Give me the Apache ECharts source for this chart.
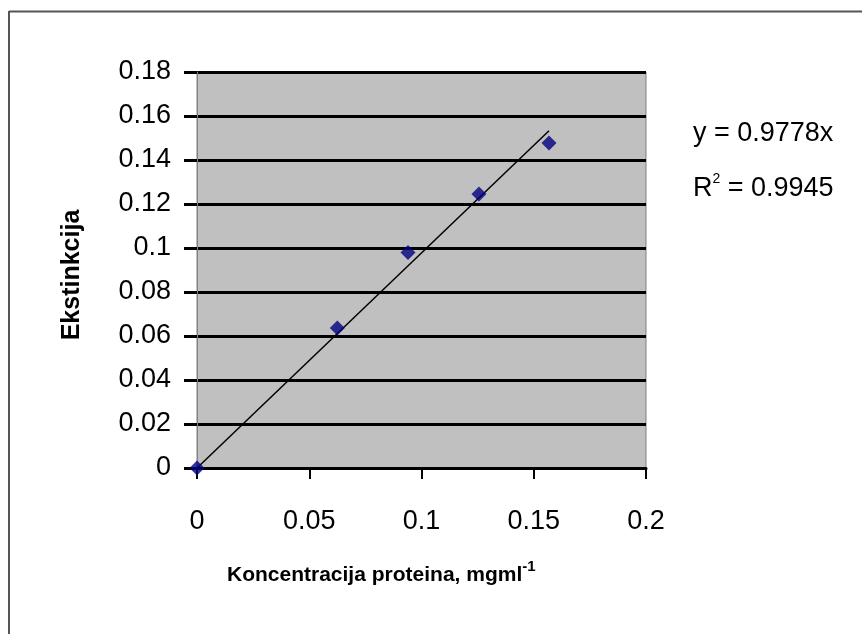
<!DOCTYPE html>
<html>
<head>
<meta charset="utf-8">
<script src="https://cdn.jsdelivr.net/npm/echarts@6/dist/echarts.min.js"></script>
<style>
html,body{margin:0;padding:0;background:#fff;}
#chart{width:862px;height:634px;}
</style>
</head>
<body>
<div id="chart"></div>
<script>
// Data
var concentration = [0, 0.0625, 0.094, 0.1256, 0.1568];
var extinction = [0, 0.0636, 0.098, 0.1245, 0.1477];
var trendX = [0, 0.1568];
var trendY = [0, 0.1533];
var xTicks = [0, 0.05, 0.1, 0.15, 0.2];
var yTicks = [0, 0.02, 0.04, 0.06, 0.08, 0.1, 0.12, 0.14, 0.16, 0.18];
var equationText = 'y = 0.9778x';
var r2Value = '0.9945';
var xTitle = 'Koncentracija proteina, mgml';
var xTitleSup = '-1';
var yTitle = 'Ekstinkcija';

var points = concentration.map(function (x, i) { return [x, extinction[i]]; });
var trend = trendX.map(function (x, i) { return [x, trendY[i]]; });

var chart = echarts.init(document.getElementById('chart'));
var FF = 'Liberation Sans, Arial, sans-serif';
var tickFont = {fontFamily: FF, fontSize: 27, color: '#000'};

chart.setOption({
  animation: false,
  backgroundColor: '#fff',
  grid: {left: 197, top: 72, right: 216, bottom: 166, containLabel: false,
         show: true, backgroundColor: '#c0c0c0', borderColor: '#808080', borderWidth: 1},
  xAxis: {
    type: 'value', min: xTicks[0], max: xTicks[xTicks.length - 1], interval: 0.05,
    axisLine: {show: true, onZero: false, lineStyle: {color: '#000', width: 3}},
    axisTick: {show: true, length: 11, lineStyle: {color: '#000', width: 2}},
    axisLabel: Object.assign({margin: 40, formatter: function (v) { return String(+v.toFixed(2)); }}, tickFont),
    splitLine: {show: false}
  },
  yAxis: {
    type: 'value', min: yTicks[0], max: yTicks[yTicks.length - 1], interval: 0.02,
    axisLine: {show: true, onZero: false, lineStyle: {color: '#808080', width: 1}},
    axisTick: {show: true, length: 13, lineStyle: {color: '#000', width: 3}},
    axisLabel: Object.assign({margin: 26, formatter: function (v) { return String(+v.toFixed(2)); }}, tickFont),
    splitLine: {show: true, lineStyle: {color: '#000', width: 3}}
  },
  series: [
    {
      type: 'line', data: trend, symbol: 'none', silent: true,
      lineStyle: {color: '#000', width: 1.5}, z: 3
    },
    {
      type: 'scatter', data: points, symbol: 'diamond', symbolSize: 15, clip: false,
      itemStyle: {color: '#000080'}, z: 4
    }
  ],
  graphic: [
    {type: 'line', shape: {x1: 9, y1: 11.5, x2: 862, y2: 11.5}, style: {stroke: '#555', lineWidth: 2}},
    {type: 'line', shape: {x1: 9, y1: 11, x2: 9, y2: 634}, style: {stroke: '#555', lineWidth: 2}},
    {type: 'text', left: 693, top: 120, style: {text: equationText, fontFamily: FF, fontSize: 27, fill: '#000'}},
    {type: 'text', left: 693, top: 172, style: {
      text: '{r|R}{s|2}{r| = ' + r2Value + '}',
      rich: {
        r: {fontFamily: FF, fontSize: 27, fill: '#000', verticalAlign: 'bottom'},
        s: {fontFamily: FF, fontSize: 14, fill: '#000', verticalAlign: 'top', padding: [0, 0, 16, 0]}
      }}},
    {type: 'text', left: 227, top: 559, style: {
      text: '{t|' + xTitle + '}{s|' + xTitleSup + '}',
      rich: {
        t: {fontFamily: FF, fontSize: 21, fontWeight: 'bold', fill: '#000', verticalAlign: 'bottom'},
        s: {fontFamily: FF, fontSize: 15, fontWeight: 'bold', fill: '#000', verticalAlign: 'top', padding: [0, 0, 12, 0]}
      }}},
    {type: 'text', x: 72, y: 275, rotation: Math.PI / 2, style: {
      text: yTitle, fontFamily: FF, fontSize: 25, fontWeight: 'bold', fill: '#000',
      align: 'center', verticalAlign: 'middle'}}
  ]
});
</script>
</body>
</html>
